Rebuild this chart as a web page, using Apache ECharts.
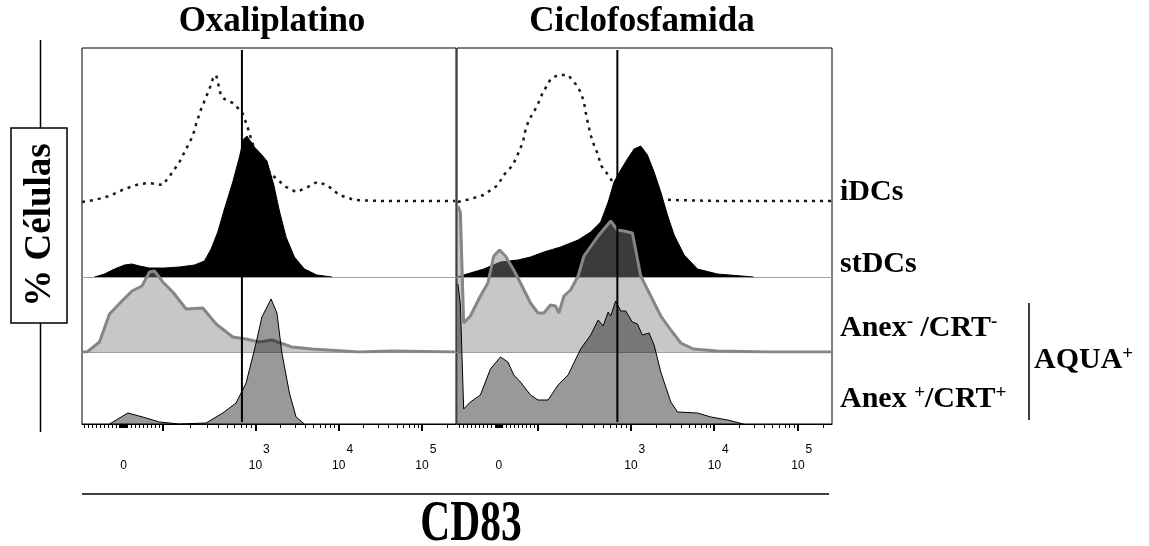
<!DOCTYPE html>
<html>
<head>
<meta charset="utf-8">
<title>CD83</title>
<script src="https://cdn.jsdelivr.net/npm/echarts@6/dist/echarts.min.js"></script>
<style>
html,body{margin:0;padding:0;background:#fff;}
#chart{width:1149px;height:546px;}
</style>
</head>
<body>
<div id="chart"></div>
<script>
// eje CD83 en unidades de decada (3 = 10^3); el 0 biexponencial cae en 1.42
// cada punto: [posicion en el eje, altura del histograma]
var oxaIDCs = [[0.92,0],[1.07,2],[1.25,6],[1.43,13],[1.61,18],[1.73,19],[1.89,17],[1.99,28],[2.09,40],[2.17,53],[2.25,66],[2.29,78],[2.35,93],[2.41,105],[2.45,113],[2.49,123],[2.53,127],[2.59,106],[2.63,103],[2.73,99],[2.84,90],[2.90,77],[2.95,63],[3.01,48],[3.11,35],[3.23,25],[3.37,15],[3.49,10],[3.61,14],[3.74,20],[3.86,17],[4.01,7],[4.19,2],[4.49,1],[4.96,1],[5.40,1]];
var oxaStDCs = [[1.07,0],[1.19,3],[1.31,8],[1.43,12],[1.52,13],[1.61,11],[1.73,9],[1.91,9],[2.09,10],[2.27,12],[2.39,16],[2.47,28],[2.55,45],[2.63,68],[2.73,95],[2.81,120],[2.86,138],[2.90,141],[2.99,130],[3.07,123],[3.14,116],[3.22,93],[3.29,66],[3.37,40],[3.47,20],[3.59,8],[3.74,2],[3.92,0]];
var oxaAnexNeg = [[0.92,0],[0.98,0],[1.13,10],[1.25,38],[1.40,51],[1.52,61],[1.64,66],[1.73,80],[1.79,81],[1.89,70],[2.01,60],[2.17,43],[2.37,44],[2.53,28],[2.73,15],[2.89,13],[3.05,10],[3.20,12],[3.44,5],[3.68,3],[4.25,0],[4.64,1],[5.40,0]];
var oxaAnexPos = [[1.25,0],[1.47,11],[1.65,7],[1.85,2],[2.09,0],[2.41,1],[2.61,11],[2.77,21],[2.89,41],[3.01,81],[3.08,107],[3.19,125],[3.26,111],[3.32,71],[3.41,31],[3.49,7],[3.59,0]];

var cicIDCs = [[0.93,0],[1.08,3],[1.24,7],[1.41,17],[1.48,27],[1.59,37],[1.65,48],[1.71,60],[1.74,72],[1.78,82],[1.84,90],[1.90,100],[1.95,110],[2.01,118],[2.04,123],[2.13,127],[2.25,127],[2.34,118],[2.40,110],[2.44,100],[2.46,90],[2.49,78],[2.52,67],[2.56,57],[2.61,47],[2.64,37],[2.73,27],[2.80,18],[2.94,10],[3.18,4],[3.50,2],[4.08,1],[5.42,1]];
var cicStDCs = [[0.93,0],[1.00,2],[1.24,8],[1.44,15],[1.65,17],[1.80,20],[1.96,25],[2.16,30],[2.37,37],[2.52,45],[2.64,55],[2.73,75],[2.80,95],[2.88,107],[2.96,118],[3.04,128],[3.12,131],[3.20,122],[3.28,105],[3.36,85],[3.44,62],[3.52,42],[3.64,22],[3.80,8],[4.04,3],[4.47,0]];
var cicAnexNeg = [[0.93,146],[0.96,140],[1.00,29],[1.08,36],[1.20,56],[1.29,69],[1.36,96],[1.43,102],[1.50,96],[1.60,82],[1.68,69],[1.80,49],[1.89,39],[1.96,39],[2.04,47],[2.10,46],[2.14,39],[2.20,56],[2.28,62],[2.37,76],[2.44,96],[2.61,116],[2.76,131],[2.84,122],[2.92,121],[3.02,119],[3.12,76],[3.24,56],[3.36,36],[3.48,22],[3.60,9],[3.75,3],[4.04,1],[4.64,0],[5.42,0]];
var cicAnexPos = [[0.93,140],[0.96,120],[1.00,15],[1.08,22],[1.20,29],[1.32,55],[1.44,67],[1.53,62],[1.60,49],[1.68,42],[1.80,29],[1.89,24],[2.01,24],[2.13,39],[2.25,49],[2.40,75],[2.52,89],[2.61,104],[2.67,98],[2.73,112],[2.76,108],[2.82,123],[2.88,113],[2.94,113],[3.02,102],[3.08,100],[3.14,89],[3.22,91],[3.28,79],[3.36,52],[3.48,22],[3.56,12],[3.80,11],[3.96,7],[4.16,4],[4.35,0]];

// marcador (gate) vertical
var gateOxa = 2.84;
var gateCic = 2.84;

var panelNames = ['Oxaliplatino', 'Ciclofosfamida'];
var histNames = ['iDCs', 'stDCs', 'Anex-/CRT-', 'Anex+/CRT+'];
var tickLabelValues = [0, 1000, 10000, 100000];
var majorTickValues = [100, 1000, 10000, 100000];

// ---- layout ----
var PANEL_LEFT = [82, 457], PANEL_W = [374, 375];
var PANEL_TOP = 48, AXIS_Y = 424;
var BASE = [202, 277, 352, 424];
var HH = 160;
var XMIN = 0.92, XMAX = 5.41;
var POS_ZERO = 1.42, POS_100 = 1.89;
var SERIF = '"Liberation Serif","Times New Roman",serif';
var SANS = '"Liberation Sans",Arial,sans-serif';

// valor CD83 -> posicion del eje (biexponencial)
function cd83Pos(v){
	if(Math.abs(v) <= 100) return POS_ZERO + v*(POS_100-POS_ZERO)/100;
	if(v <= 1000) return POS_100 + (3-POS_100)*Math.log10(v/100);
	return Math.log10(v);
}
function minorTicks(){
	var t = [];
	for(var v=-100; v<=100; v+=10) t.push(cd83Pos(v));
	for(v=-9; v<=9; v++) t.push(cd83Pos(v));
	for(var d=100; d<=100000; d*=10){
		for(var k=1; k<10; k++){
			var p = cd83Pos(k*d);
			if(p <= XMAX) t.push(p);
		}
	}
	t.push(cd83Pos(200000));
	return t;
}

var HIST_STYLE = [
	{line:{color:'#1a1a1a', width:2.5, type:[3,5], cap:'butt'}, area:null, z:2},
	{line:{color:'#000', width:1}, area:{color:'#000', opacity:1}, z:3},
	{line:{color:'#868686', width:3}, area:{color:'rgba(130,130,130,0.45)', opacity:1}, z:4},
	{line:{color:'#000', width:1}, area:{color:'rgba(0,0,0,0.4)', opacity:1}, z:5}
];

var histData = [
	[oxaIDCs, oxaStDCs, oxaAnexNeg, oxaAnexPos],
	[cicIDCs, cicStDCs, cicAnexNeg, cicAnexPos]
];
var gates = [gateOxa, gateCic];

var grids = [], xAxes = [], yAxes = [], series = [];
var minors = minorTicks();
var majors = majorTickValues.map(cd83Pos);
var labelVals = tickLabelValues.map(cd83Pos);

for(var p=0; p<2; p++){
	// marco del panel + eje x
	var g = grids.length;
	grids.push({left:PANEL_LEFT[p], top:PANEL_TOP, width:PANEL_W[p], height:AXIS_Y-PANEL_TOP,
		show:true, borderColor:'#000', borderWidth:1, backgroundColor:'transparent',
		containLabel:false, outerBoundsMode:'none'});
	xAxes.push({type:'value', gridIndex:g, position:'bottom', min:XMIN, max:XMAX,
		axisLine:{show:true, lineStyle:{color:'#000', width:1}},
		axisTick:{show:true, customValues:minors, length:4, lineStyle:{color:'#000', width:1}},
		splitLine:{show:false},
		axisLabel:{show:true, customValues:labelVals, margin:20, color:'#000', fontFamily:SANS,
			formatter:function(v){
				if(Math.abs(v-POS_ZERO) < 0.01) return '{n|0}';
				return '{g|}{n|10}{s|' + Math.round(v) + '}';
			},
			rich:{
				n:{fontSize:12, padding:[16,0,0,0], fontFamily:SANS, color:'#000'},
				s:{fontSize:12, verticalAlign:'top', padding:[0,0,0,1], fontFamily:SANS, color:'#000'},
				g:{width:8}
			}
		}
	});
	var frameX = xAxes.length-1;
	xAxes.push({type:'value', gridIndex:g, position:'bottom', min:XMIN, max:XMAX,
		axisLine:{show:false},
		axisTick:{show:true, customValues:majors, length:7, lineStyle:{color:'#000', width:2}},
		axisLabel:{show:false}, splitLine:{show:false}});
	yAxes.push({type:'value', gridIndex:g, min:0, max:1, show:false});
	var frameY = yAxes.length-1;

	series.push({
		name:'gate', type:'line', xAxisIndex:frameX, yAxisIndex:frameY,
		data:[[gates[p],0.005],[gates[p],0.995]],
		symbol:'none', lineStyle:{color:'#000', width:2}, z:6, silent:true
	});

	// un grid por histograma, desplazados en vertical
	for(var k=0; k<4; k++){
		var gi = grids.length;
		grids.push({left:PANEL_LEFT[p], top:BASE[k]-HH, width:PANEL_W[p], height:HH,
			show:false, containLabel:false, outerBoundsMode:'none'});
		xAxes.push({type:'value', gridIndex:gi, min:XMIN, max:XMAX,
			axisLine:{show:(k==1 || k==2), lineStyle:{color:'#a0a0a0', width:1}},
			axisTick:{show:false}, axisLabel:{show:false}, splitLine:{show:false}});
		yAxes.push({type:'value', gridIndex:gi, min:0, max:HH, show:false});
		var st = HIST_STYLE[k];
		var s = {
			name:histNames[k], type:'line', xAxisIndex:xAxes.length-1, yAxisIndex:yAxes.length-1,
			data:histData[p][k], symbol:'none', smooth:false,
			lineStyle:st.line, z:st.z, silent:true
		};
		if(st.area) s.areaStyle = st.area;
		series.push(s);
	}
}

function txt(x, y, text, font, align, extra){
	var e = {type:'text', x:x, y:y, z:100, style:{text:text, font:font, fill:'#000',
		textAlign:align, align:align, textVerticalAlign:'middle', verticalAlign:'middle'}};
	if(extra){ for(var key in extra){ if(key=='rich') e.style.rich = extra.rich; else e[key] = extra[key]; } }
	return e;
}
var supStyle = {s:{font:'bold 19px ' + SERIF, verticalAlign:'top', fill:'#000'}};
var LABEL_FONT = 'bold 30px ' + SERIF;

var graphics = [
	txt(272, 22, panelNames[0], 'bold 35px ' + SERIF, 'center'),
	txt(642, 22, panelNames[1], 'bold 35px ' + SERIF, 'center'),
	txt(840, 192, 'iDCs', LABEL_FONT, 'left'),
	txt(840, 264, 'stDCs', LABEL_FONT, 'left'),
	txt(840, 328, 'Anex{s|-} /CRT{s|-}', LABEL_FONT, 'left', {rich:supStyle}),
	txt(840, 399, 'Anex {s|+}/CRT{s|+}', LABEL_FONT, 'left', {rich:supStyle}),
	txt(1034, 360, 'AQUA{s|+}', LABEL_FONT, 'left', {rich:supStyle}),
	txt(40, 225, '% Células', 'bold 37px ' + SERIF, 'center', {rotation:Math.PI/2}),
	txt(471, 526, 'CD83', 'bold 56px ' + SERIF, 'center', {scaleX:0.74}),
	{type:'line', z:100, shape:{x1:1029, y1:303, x2:1029, y2:420}, style:{stroke:'#000', lineWidth:1.5}},
	{type:'line', z:100, shape:{x1:82, y1:494, x2:829, y2:494}, style:{stroke:'#000', lineWidth:1.5}},
	{type:'line', z:100, shape:{x1:40.5, y1:40, x2:40.5, y2:128}, style:{stroke:'#000', lineWidth:1.5}},
	{type:'line', z:100, shape:{x1:40.5, y1:323, x2:40.5, y2:432}, style:{stroke:'#000', lineWidth:1.5}},
	{type:'rect', z:100, shape:{x:11, y:128, width:56, height:195}, style:{stroke:'#000', fill:'none', lineWidth:1.5}}
];

var chart = echarts.init(document.getElementById('chart'), null, {renderer:'canvas'});
chart.setOption({
	animation:false,
	backgroundColor:'#fff',
	grid:grids,
	xAxis:xAxes,
	yAxis:yAxes,
	series:series,
	graphic:{elements:graphics}
});
</script>
</body>
</html>
